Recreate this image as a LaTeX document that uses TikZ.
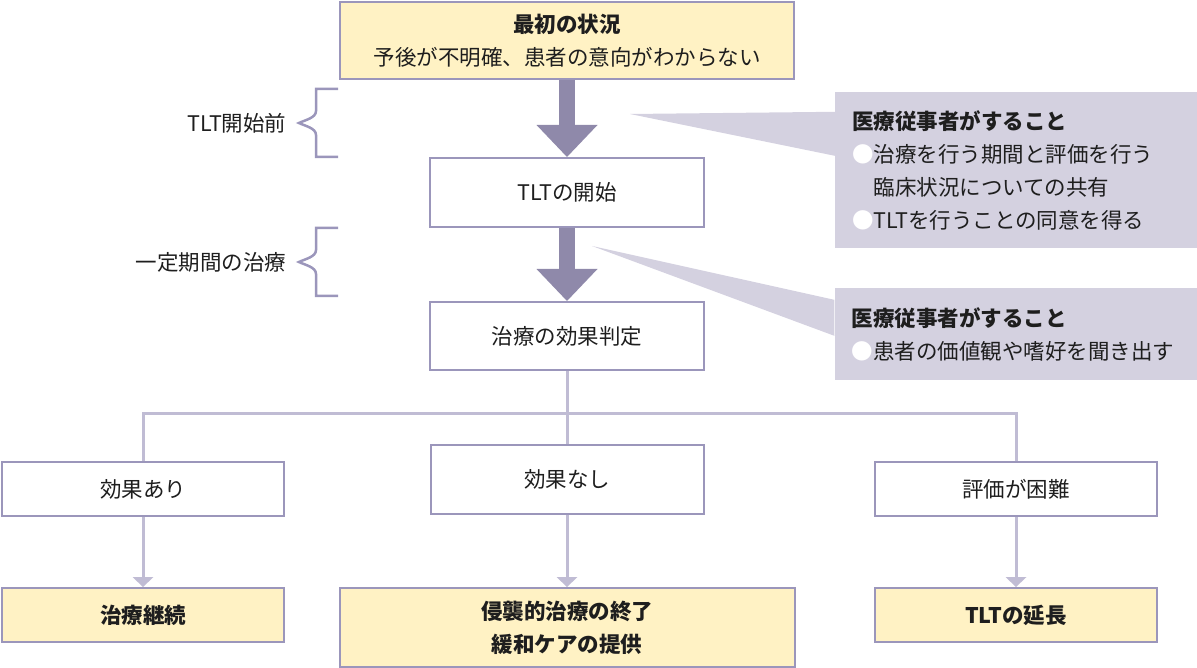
\documentclass[tikz,border=0pt]{standalone}
\usepackage{fontspec}
\setmainfont{Noto Sans CJK JP}
\usetikzlibrary{arrows.meta}
\usetikzlibrary{calc}
\definecolor{frame}{RGB}{155,150,187}
\definecolor{paleyellow}{RGB}{255,242,196}
\definecolor{notegray}{RGB}{212,209,224}
\definecolor{flowpurple}{RGB}{143,137,170}
\definecolor{linkpurple}{RGB}{192,188,212}
\definecolor{textblack}{RGB}{30,30,30}
\newcommand{\dotmark}{{\color{white}●}}
\tikzset{
	box/.style={draw=frame, line width=2pt, fill=white, inner sep=0pt, align=center,
		text=textblack, font=\fontsize{21.5}{30}\selectfont},
	result/.style={box, fill=paleyellow, font=\fontsize{21.5}{33}\selectfont\bfseries},
	note/.style={fill=notegray, inner xsep=17pt, inner ysep=0pt, text width=328pt,
		align=left, text=textblack, font=\fontsize{21.5}{33}\selectfont},
	flow/.style={draw=flowpurple, line width=16pt,
		-{Triangle[width=61pt,length=32pt,line width=0pt]}},
	link/.style={draw=linkpurple, line width=3pt},
	linkarrow/.style={link, -{Triangle[width=21pt,length=10pt,line width=0pt]}},
	brace/.style={draw=frame, line width=2.5pt},
	phase/.style={anchor=east, text=textblack, font=\fontsize{21.5}{26}\selectfont}
}

\begin{document}
\begin{tikzpicture}[x=1pt, y=-1pt]
	\useasboundingbox (0,0) rectangle (1197,668);

	% Main column
	\node[result, minimum width=454pt, minimum height=77pt] (init) at (567,40.5)
		{\textbf{最初の状況}\\ \mdseries 予後が不明確、患者の意向がわからない};
	\node[box, minimum width=274pt, minimum height=69pt] (start) at (567,192.5) {TLTの開始};
	\node[box, minimum width=274pt, minimum height=68pt] (judge) at (567,336) {治療の効果判定};

	% Big arrows
	\draw[flow] (init.south) -- (start.north);
	\draw[flow] (start.south) -- (judge.north);

	% Phases on the left
	\foreach \yc/\lbl [count=\i] in {123/{TLT開始前}, 262/{一定期間の治療}} {
		\node[phase] (phase\i) at (290,\yc) {\lbl};
		\draw[brace] (338,\yc-34) -- (316,\yc-34) -- (316,\yc-12)
			.. controls (316,\yc-5) and (305,\yc-3) .. (299,\yc)
			.. controls (305,\yc+3) and (316,\yc+5) .. (316,\yc+12)
			-- (316,\yc+34) -- (338,\yc+34);
	}

	% Notes on the right
	\node[note, minimum height=156pt] (todo1) at (1016,170)
		{\textbf{医療従事者がすること}\\
		\dotmark 治療を行う期間と評価を行う\\
		\hspace*{1em}臨床状況についての共有\\
		\dotmark TLTを行うことの同意を得る};
	\node[note, minimum height=92pt] (todo2) at (1015.5,334)
		{\textbf{医療従事者がすること}\\
		\dotmark 患者の価値観や嗜好を聞き出す};
	\coordinate (tip1) at (630,114);
	\coordinate (tip2) at (592,246);
	\fill[notegray] (tip1) -- ($(todo1.north west)+(0,20)$) -- ($(todo1.north west)+(0,64)$) -- cycle;
	\fill[notegray] (tip2) -- ($(todo2.north west)+(0,12)$) -- ($(todo2.north west)+(0,48)$) -- cycle;

	% Outcomes
	\node[box, minimum width=282pt, minimum height=54pt] (effyes) at (143,489) {効果あり};
	\node[box, minimum width=273pt, minimum height=69pt] (effno) at (567,479.5) {効果なし};
	\node[box, minimum width=282pt, minimum height=54pt] (hard) at (1016,489) {評価が困難};

	\node[result, minimum width=282pt, minimum height=54pt] (cont) at (143,615) {治療継続};
	\node[result, minimum width=455pt, minimum height=79pt] (stop) at (567,627.5)
		{侵襲的治療の終了\\ 緩和ケアの提供};
	\node[result, minimum width=282pt, minimum height=54pt] (extend) at (1016,615) {TLTの延長};

	% Branches
	\coordinate (split) at (567,413);
	\draw[link] (judge.south) -- (split);
	\draw[link] (split) -| (effyes.north);
	\draw[link] (split) -| (hard.north);
	\draw[link] (split) -- (effno.north);

	\draw[linkarrow] (effyes.south) -- (cont.north);
	\draw[linkarrow] (effno.south) -- (stop.north);
	\draw[linkarrow] (hard.south) -- (extend.north);
\end{tikzpicture}
\end{document}
